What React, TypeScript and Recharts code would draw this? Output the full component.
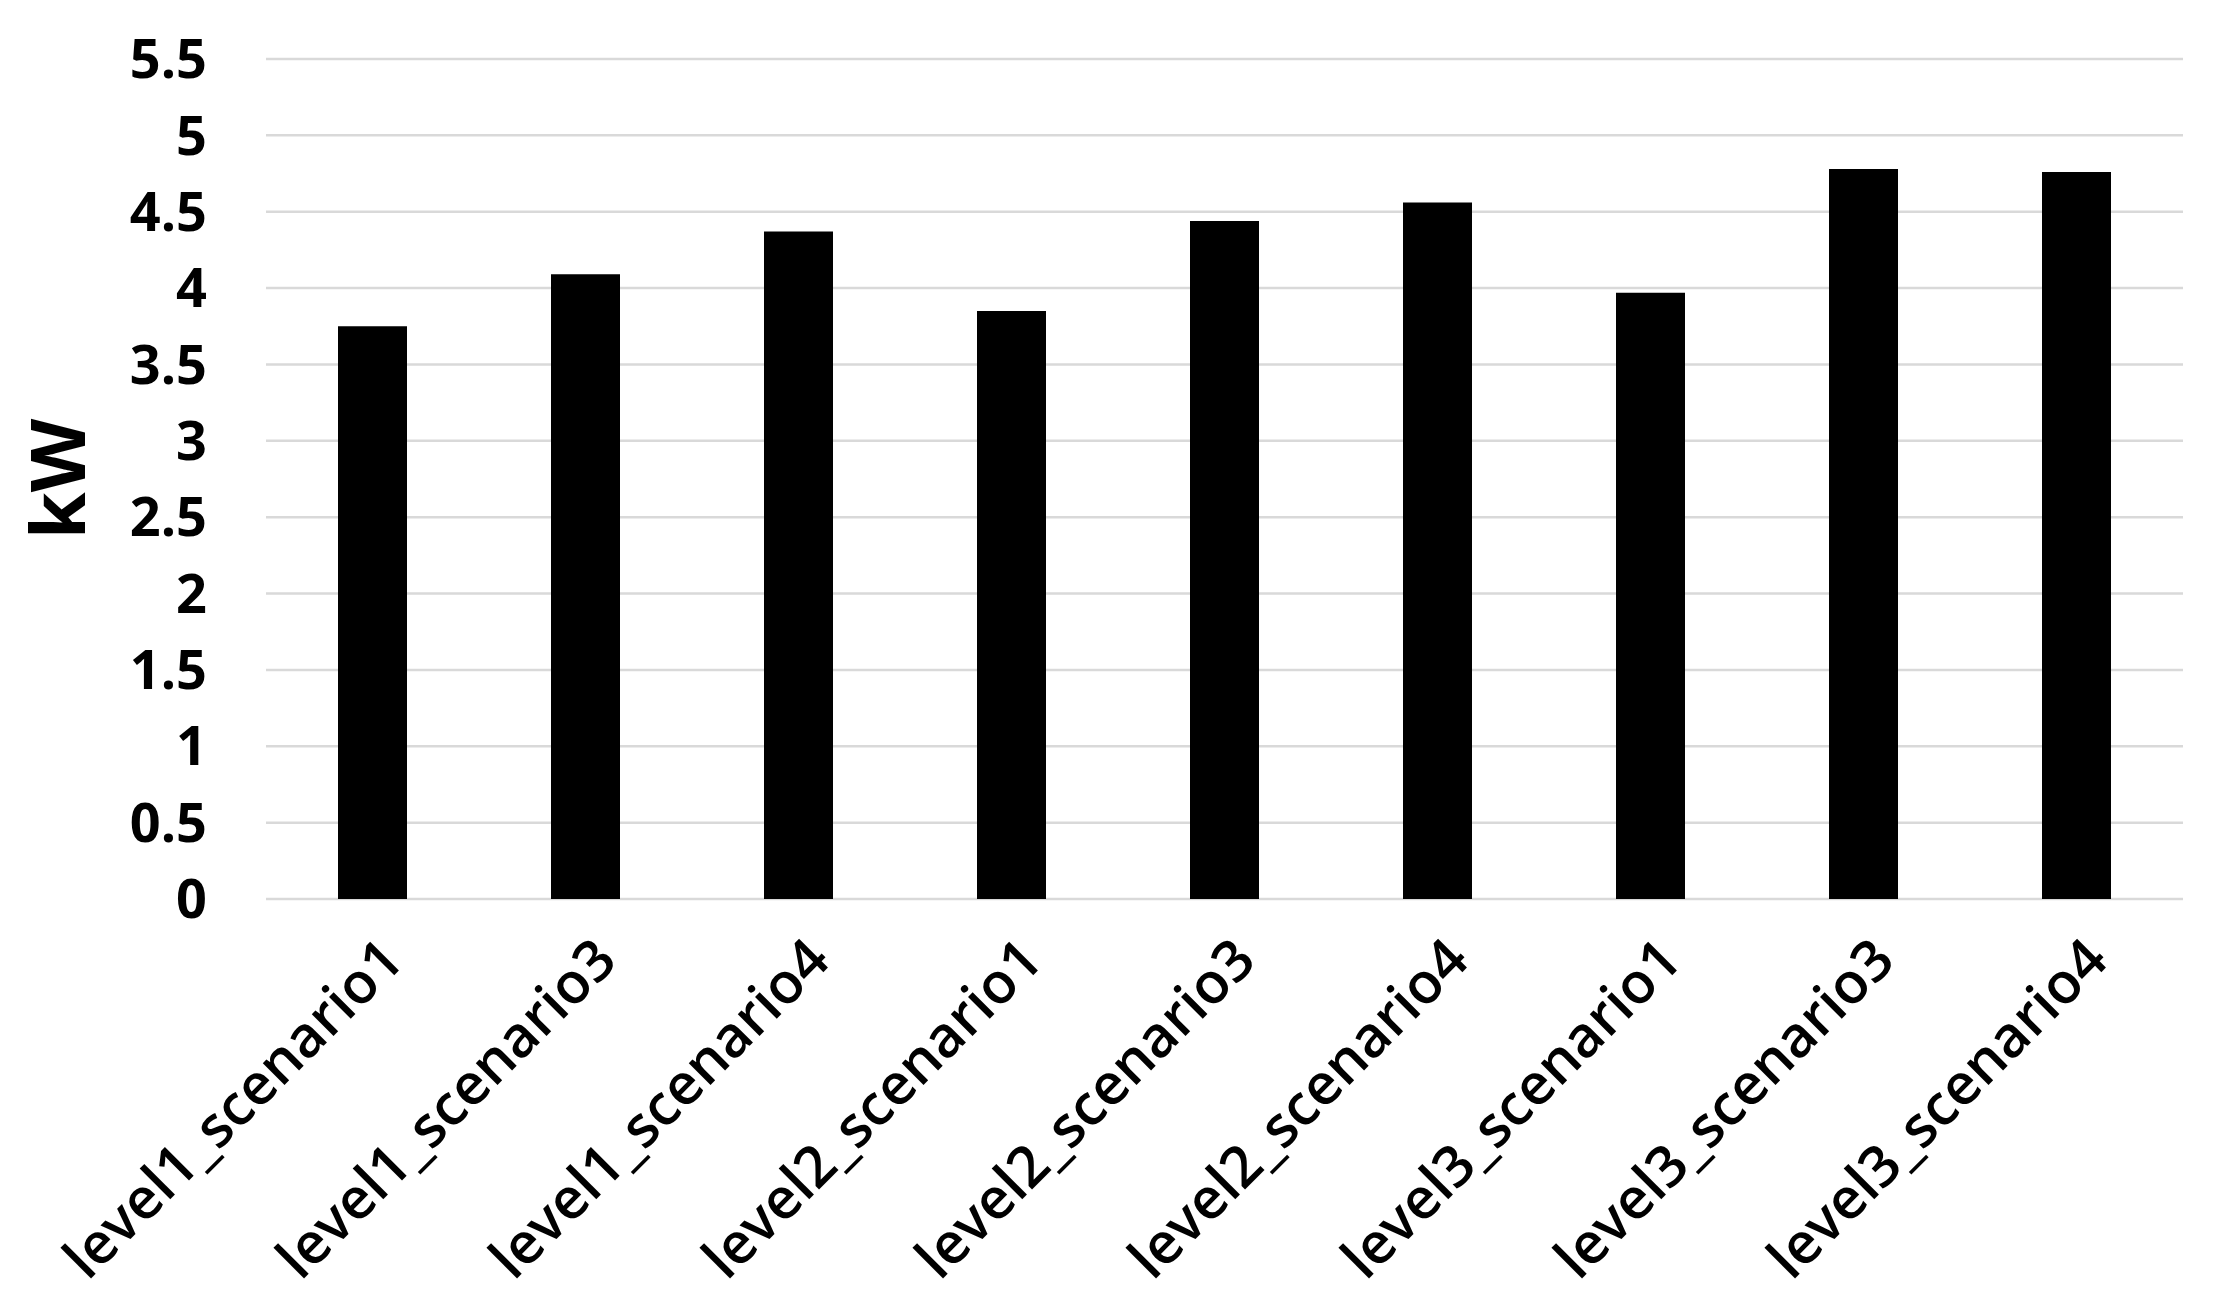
import React from "react";
import { BarChart, Bar, XAxis, YAxis, CartesianGrid } from "recharts";

const categories = [
  "level1_scenario1",
  "level1_scenario3",
  "level1_scenario4",
  "level2_scenario1",
  "level2_scenario3",
  "level2_scenario4",
  "level3_scenario1",
  "level3_scenario3",
  "level3_scenario4",
];
const power = [3.75, 4.09, 4.37, 3.85, 4.44, 4.56, 3.97, 4.78, 4.76];
const yTicks = [0, 0.5, 1, 1.5, 2, 2.5, 3, 3.5, 4, 4.5, 5, 5.5];

const data = categories.map((name, i) => ({ name, kw: power[i] }));

const FONT = "'Open Sans', 'DejaVu Sans', sans-serif";

const XTick = (props: any) => {
  const { x, y, payload } = props;
  return (
    <g transform={`translate(${x + 34},${y + 56})`}>
      <text
        x={0}
        y={0}
        textAnchor="end"
        transform="rotate(-45)"
        fontFamily={FONT}
        fontWeight={600}
        fontSize={57}
        fill="#000"
      >
        {payload.value}
      </text>
    </g>
  );
};

const KwLabel = (props: any) => {
  const { viewBox } = props;
  const cx = viewBox.x + 55;
  const cy = viewBox.y + viewBox.height / 2;
  return (
    <text
      x={cx}
      y={cy}
      textAnchor="middle"
      dominantBaseline="central"
      transform={`rotate(-90, ${cx}, ${cy})`}
      fontFamily={FONT}
      fontWeight={700}
      fontSize={76}
      fill="#000"
    >
      kW
    </text>
  );
};

export default function App() {
  return (
    <div style={{ position: "absolute", left: 0, top: 0, background: "#fff" }}>
      <BarChart
        width={2215}
        height={1302}
        data={data}
        margin={{ top: 59, right: 32, bottom: 0, left: 0 }}
      >
        <CartesianGrid vertical={false} stroke="#d9d9d9" strokeWidth={2.5} />
        <XAxis
          dataKey="name"
          height={403}
          axisLine={false}
          tickLine={false}
          interval={0}
          tick={<XTick />}
        />
        <YAxis
          width={266}
          domain={[0, 5.5]}
          ticks={yTicks}
          axisLine={false}
          tickLine={false}
          tickSize={0}
          tickMargin={59}
          tick={{ fontFamily: FONT, fontWeight: 700, fontSize: 54, fill: "#000" }}
          label={<KwLabel />}
        />
        <Bar dataKey="kw" fill="#000" barSize={69} isAnimationActive={false} />
      </BarChart>
    </div>
  );
}
